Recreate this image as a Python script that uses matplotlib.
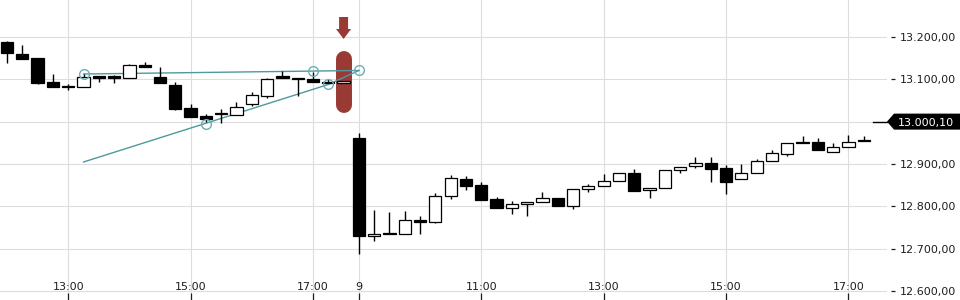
import numpy as np
import pandas as pd
import matplotlib
matplotlib.use('Agg')
import matplotlib.pyplot as plt
from matplotlib.patches import Polygon
from matplotlib.ticker import FuncFormatter, FixedLocator
import matplotlib.transforms as mtransforms

# ---------------- data ----------------
times = (list(pd.date_range('2025-01-08 12:00', '2025-01-08 17:30', freq='15min')) +
         list(pd.date_range('2025-01-09 09:00', '2025-01-09 17:15', freq='15min')))

opens = [13189, 13161, 13150, 13094, 13083, 13083, 13107, 13108, 13104, 13134,
         13105, 13087, 13032, 13013, 13021, 13015, 13041, 13061, 13107, 13104,
         13101, 13094, 13091,
         12961, 12729, 12737, 12734, 12767, 12764, 12824, 12865, 12850, 12817,
         12795, 12805, 12810, 12820, 12800, 12840, 12847, 12859, 12879, 12838,
         12843, 12885, 12895, 12902, 12891, 12864, 12878, 12907, 12923, 12952,
         12952, 12928, 12940, 12957]
highs = [13190, 13181, 13150, 13113, 13089, 13113, 13107, 13111, 13136, 13141,
         13129, 13094, 13041, 13018, 13030, 13046, 13071, 13103, 13119, 13104,
         13118, 13100, 13097,
         12973, 12791, 12787, 12789, 12777, 12831, 12874, 12872, 12858, 12822,
         12812, 12810, 12834, 12820, 12840, 12853, 12876, 12878, 12888, 12843,
         12886, 12892, 12916, 12916, 12898, 12900, 12912, 12933, 12949, 12966,
         12961, 12949, 12969, 12966]
lows = [13139, 13149, 13089, 13083, 13074, 13083, 13094, 13092, 13104, 13128,
        13092, 13028, 13012, 12999, 12998, 13015, 13038, 13057, 13103, 13061,
        13094, 13091, 13091,
        12688, 12717, 12734, 12734, 12735, 12761, 12818, 12839, 12816, 12797,
        12783, 12777, 12810, 12800, 12794, 12835, 12847, 12859, 12837, 12820,
        12843, 12879, 12891, 12858, 12828, 12864, 12878, 12907, 12920, 12949,
        12932, 12928, 12940, 12954]
closes = [13163, 13149, 13092, 13083, 13083.5, 13105, 13103, 13102, 13133, 13128,
          13092, 13031, 13012, 13007, 13017, 13034, 13062, 13101, 13103, 13100,
          13094, 13091, 13097,
          12731, 12735, 12734, 12767, 12764, 12824, 12866, 12849, 12816, 12797,
          12805, 12810, 12819, 12800, 12840, 12847, 12859, 12878, 12837, 12843,
          12886, 12892, 12902, 12889, 12858, 12878, 12907, 12925, 12949, 12949,
          12932, 12940, 12952, 12954]

y_ticks = [12600, 12700, 12800, 12900, 13000, 13100, 13200]
last_price = 13000.10

# drawing tools (trend lines), anchored on bar index / price
upper_line_x = [5, 23]
upper_line_y = [13112.6, 13120.9]
upper_handles_x = [5, 20, 23]
upper_handles_y = [13112.6, 13119.7, 13120.9]
lower_line_x = [5, 21, 23]
lower_line_y = [12904.7, 13087.8, 13120.9]
lower_handles_x = [13, 21]
lower_handles_y = [12994.5, 13087.8]

highlight_bar = 22
highlight_range = [13038.7, 13148.7]

# ---------------- figure ----------------
W, H = 960, 300
fig = plt.figure(figsize=(W / 100, H / 100), dpi=100)
ax = fig.add_axes([0, 0, 887 / W, 1])

n = len(times)
x = np.arange(n)
o = np.array(opens, float); c = np.array(closes, float)
h = np.array(highs, float); l = np.array(lows, float)
up = c >= o

ax.set_xlim(-0.458, 57.52)
ax.set_ylim(12578.7, 13287.4)

grid_c = '#dddddd'
txt_c = '#1e1e1e'
red = '#9a3a35'
teal = '#4f999e'

# grid
for yv in y_ticks:
    ax.axhline(yv, color=grid_c, lw=0.8, zorder=0)

tick_pos, tick_lab = [], []
for i, t in enumerate(times):
    if i > 0 and t.date() != times[i - 1].date():
        tick_pos.append(i); tick_lab.append(str(t.day))
    elif t.minute == 0 and t.hour % 2 == 1:
        tick_pos.append(i); tick_lab.append(f"{t.hour}:00")
for xp in tick_pos:
    ax.axvline(xp, color=grid_c, lw=0.8, zorder=0)

# highlight behind candle
ax.plot([highlight_bar, highlight_bar], highlight_range, color=red, lw=11.5,
        solid_capstyle='round', zorder=1)

# trend lines
ax.plot(upper_line_x, upper_line_y, color=teal, lw=1.0, zorder=2)
ax.plot(lower_line_x, lower_line_y, color=teal, lw=1.0, zorder=2)
ax.plot(upper_handles_x, upper_handles_y, 'o', ms=7, mfc='none', mec='#6fadb2', mew=1.0, zorder=6)
ax.plot(lower_handles_x, lower_handles_y, 'o', ms=7, mfc='none', mec='#6fadb2', mew=1.0, zorder=6)

# candles
ax.vlines(x, l, h, color='black', lw=1.0, zorder=3)
body_bottom = np.minimum(o, c)
body_h = np.abs(c - o)
ax.bar(x, body_h, bottom=body_bottom, width=0.8,
       color=np.where(up, 'white', 'black'), edgecolor='black', linewidth=0.9, zorder=4)

# axes styling
for s in ax.spines.values():
    s.set_visible(False)
ax.set_facecolor('white')
fig.patch.set_facecolor('white')

ax.yaxis.tick_right()
ax.spines['right'].set_position(('outward', 3))
ax.set_yticks(y_ticks)
def fmt(v, pos):
    s = f"{v:,.2f}"
    return s.replace(',', 'X').replace('.', ',').replace('X', '.')
ax.yaxis.set_major_formatter(FuncFormatter(fmt))
ax.tick_params(axis='y', direction='out', length=3, width=0.9, pad=3,
               labelsize=8, colors=txt_c)

ax.xaxis.set_major_locator(FixedLocator(tick_pos))
ax.set_xticklabels([''] * len(tick_pos))
ax.tick_params(axis='x', direction='in', length=5, width=0.9, color=txt_c)
trans_x = mtransforms.blended_transform_factory(ax.transData, ax.transAxes)
for xp, lab in zip(tick_pos, tick_lab):
    ax.text(xp, (H - 290.3) / H, lab, transform=trans_x, ha='center', va='baseline',
            fontsize=8, color=txt_c, zorder=7)

# last price marker
trans_y = mtransforms.blended_transform_factory(ax.transAxes, ax.transData)
ax.plot([(873) / 887, 1.0], [last_price, last_price], color='black', lw=1.0,
        transform=trans_y, clip_on=False, zorder=5)

fig.canvas.draw()
yc = ax.transData.transform((0, last_price))[1]
tag = Polygon([(887 / W, yc / H), (894 / W, (yc + 8) / H), (1.0, (yc + 8) / H),
               (1.0, (yc - 8) / H), (894 / W, (yc - 8) / H)],
              closed=True, transform=fig.transFigure, facecolor='black',
              edgecolor='none', zorder=10)
fig.add_artist(tag)
label = fmt(last_price, None)
fig.text(898 / W, yc / H, label, color='white', fontsize=8, ha='left',
         va='center_baseline', zorder=11)

# red arrow above highlighted bar
xc = ax.transData.transform((highlight_bar, 0))[0]
top = H - 17; neck = H - 29; tip = H - 39
arrow = Polygon([(xc - 4.5, top), (xc + 4.5, top), (xc + 4.5, neck), (xc + 7.5, neck),
                 (xc, tip), (xc - 7.5, neck), (xc - 4.5, neck)],
                closed=True, transform=mtransforms.Affine2D().scale(1 / W, 1 / H) + fig.transFigure,
                facecolor=red, edgecolor='none', zorder=10)
fig.add_artist(arrow)

fig.savefig('out.png', dpi=100, facecolor='white')
